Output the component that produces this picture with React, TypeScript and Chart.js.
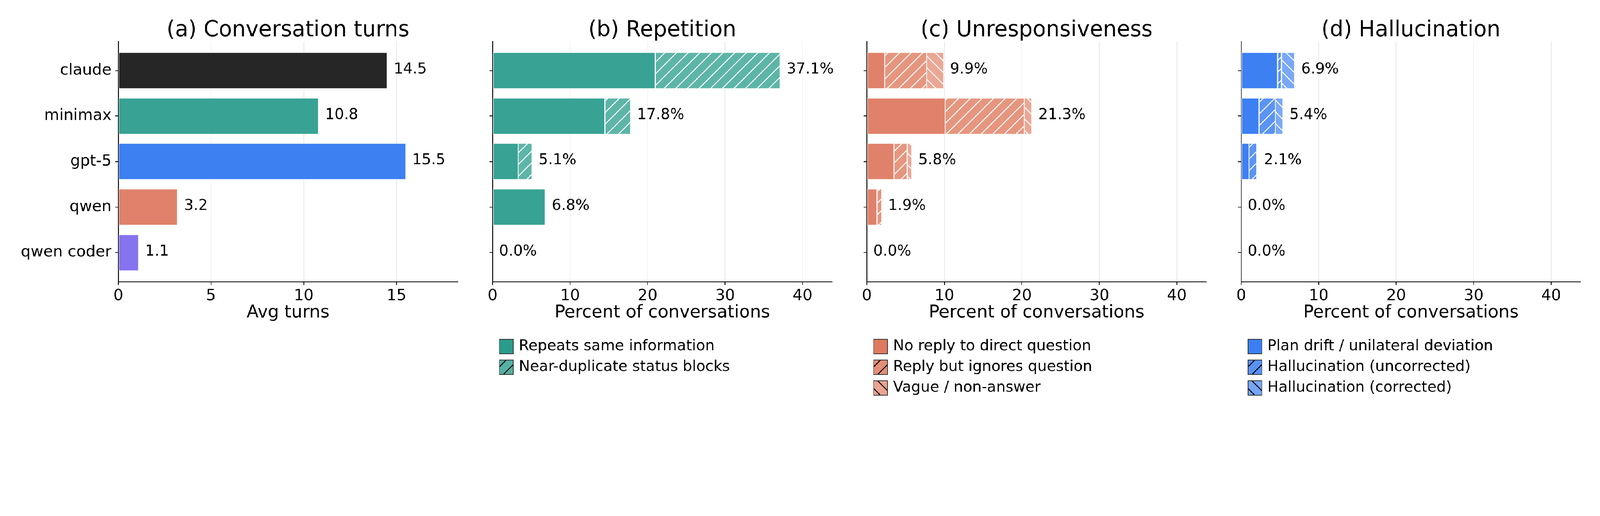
import React, { useEffect, useRef } from 'react'
import { Chart, registerables } from 'chart.js'

Chart.register(...registerables)

const FONT = '"DejaVu Sans", sans-serif'
Chart.defaults.font.family = FONT

const MODELS = ['claude', 'minimax', 'gpt-5', 'qwen', 'qwen coder']

// (a) conversation turns
const AVG_TURNS = [14.5, 10.8, 15.5, 3.2, 1.1]
const TURN_COLORS = ['#262626', '#38a294', '#3d80f2', '#e0826b', '#8673ef']
const TURN_TICKS = [0, 5, 10, 15]

// (b) repetition, percent of conversations
const REPEATS_SAME = [21.0, 14.5, 3.3, 6.8, 0]
const NEAR_DUPLICATE = [16.1, 3.3, 1.8, 0, 0]

// (c) unresponsiveness
const NO_REPLY = [2.3, 10.1, 3.5, 1.3, 0]
const IGNORES_QUESTION = [5.4, 10.2, 1.7, 0.6, 0]
const VAGUE = [2.2, 1.0, 0.6, 0, 0]

// (d) hallucination
const PLAN_DRIFT = [4.7, 2.3, 1.0, 0, 0]
const HALLU_UNCORRECTED = [0.5, 2.1, 1.0, 0, 0]
const HALLU_CORRECTED = [1.7, 1.0, 0.1, 0, 0]

const PCT_TICKS = [0, 10, 20, 30, 40]

type Dir = '/' | '\\' | undefined

interface Segment {
  label: string
  values: number[]
  bar: string | string[]
  swatch: string
  hatch?: Dir
}

interface PanelSpec {
  title: string
  axisLabel: string
  left: number
  yWidth: number
  max: number
  ticks: number[]
  showNames: boolean
  suffix: string
  legend: boolean
  segments: Segment[]
}

const PANELS: PanelSpec[] = [
  {
    title: '(a) Conversation turns', axisLabel: 'Avg turns', left: 366, yWidth: 366, max: 18.3,
    ticks: TURN_TICKS, showNames: true, suffix: '', legend: false,
    segments: [{ label: 'Avg turns', values: AVG_TURNS, bar: TURN_COLORS, swatch: '#262626' }],
  },
  {
    title: '(b) Repetition', axisLabel: 'Percent of conversations', left: 1524, yWidth: 60, max: 43.8,
    ticks: PCT_TICKS, showNames: false, suffix: '%', legend: true,
    segments: [
      { label: 'Repeats same information', values: REPEATS_SAME, bar: '#38a294', swatch: '#2a9c8a' },
      { label: 'Near-duplicate status blocks', values: NEAR_DUPLICATE, bar: '#5db5a8', swatch: '#55b0a3', hatch: '/' },
    ],
  },
  {
    title: '(c) Unresponsiveness', axisLabel: 'Percent of conversations', left: 2682, yWidth: 60, max: 43.8,
    ticks: PCT_TICKS, showNames: false, suffix: '%', legend: true,
    segments: [
      { label: 'No reply to direct question', values: NO_REPLY, bar: '#e0826b', swatch: '#df7a60' },
      { label: 'Reply but ignores question', values: IGNORES_QUESTION, bar: '#e6967f', swatch: '#e48f78', hatch: '/' },
      { label: 'Vague / non-answer', values: VAGUE, bar: '#eba795', swatch: '#eaa390', hatch: '\\' },
    ],
  },
  {
    title: '(d) Hallucination', axisLabel: 'Percent of conversations', left: 3840, yWidth: 60, max: 43.8,
    ticks: PCT_TICKS, showNames: false, suffix: '%', legend: true,
    segments: [
      { label: 'Plan drift / unilateral deviation', values: PLAN_DRIFT, bar: '#3d80f2', swatch: '#3b7ff2' },
      { label: 'Hallucination (uncorrected)', values: HALLU_UNCORRECTED, bar: '#5b94f4', swatch: '#5891f4', hatch: '/' },
      { label: 'Hallucination (corrected)', values: HALLU_CORRECTED, bar: '#7aa8f6', swatch: '#77a5f6', hatch: '\\' },
    ],
  },
]

const W = 4950
const H = 1320
const AXES_W = 1050
const RIGHT_PAD = 20
const AXES_TOP = 128
const AXES_BOTTOM = 871
const X_AXIS_H = 100

function hatchPattern(color: string, dir: Dir): CanvasPattern | string {
  if (!dir) return color
  const s = 36
  const c = document.createElement('canvas')
  c.width = s
  c.height = s
  const g = c.getContext('2d')!
  g.fillStyle = color
  g.fillRect(0, 0, s, s)
  g.strokeStyle = '#ffffff'
  g.lineWidth = 3
  g.beginPath()
  for (const k of [-s, 0, s]) {
    if (dir === '/') { g.moveTo(k - 2, s + 2); g.lineTo(k + s + 2, -2) }
    else { g.moveTo(k - 2, -2); g.lineTo(k + s + 2, s + 2) }
  }
  g.stroke()
  return g.createPattern(c, 'repeat')!
}

function drawSwatch(ctx: CanvasRenderingContext2D, x: number, y: number, w: number, h: number, color: string, dir: Dir) {
  ctx.save()
  ctx.fillStyle = color
  ctx.fillRect(x, y, w, h)
  if (dir) {
    ctx.beginPath()
    ctx.rect(x, y, w, h)
    ctx.clip()
    ctx.strokeStyle = '#000'
    ctx.lineWidth = 3
    ctx.beginPath()
    for (let k = -2; k <= 2; k++) {
      const ox = x + k * 36 + 12
      if (dir === '/') { ctx.moveTo(ox, y + h); ctx.lineTo(ox + h, y) }
      else { ctx.moveTo(ox, y); ctx.lineTo(ox + h, y + h) }
    }
    ctx.stroke()
  }
  ctx.restore()
  ctx.strokeStyle = '#333'
  ctx.lineWidth = 2
  ctx.strokeRect(x, y, w, h)
}

function makeDecor(spec: PanelSpec) {
  return {
    id: 'decor',
    afterDraw(chart: Chart) {
      const { ctx, chartArea, scales } = chart
      const cx = (chartArea.left + chartArea.right) / 2
      ctx.save()
      ctx.fillStyle = '#000'
      ctx.textAlign = 'center'
      ctx.textBaseline = 'alphabetic'
      ctx.font = `67px ${FONT}`
      ctx.fillText(spec.title, cx, 112)
      ctx.font = `54px ${FONT}`
      ctx.fillText(spec.axisLabel, cx, 981)

      // totals at bar ends
      ctx.font = `46px ${FONT}`
      ctx.textAlign = 'left'
      ctx.textBaseline = 'middle'
      MODELS.forEach((_, i) => {
        const total = spec.segments.reduce((s, seg) => s + seg.values[i], 0)
        const px = scales.x.getPixelForValue(total) + 20
        const py = scales.y.getPixelForValue(i) - 3
        ctx.fillText(total.toFixed(1) + spec.suffix, px, py)
      })

      if (spec.legend) {
        const bx = chartArea.left + 21
        spec.segments.forEach((seg, i) => {
          const by = 1049 + i * 64
          drawSwatch(ctx, bx, by, 43, 45, seg.swatch, seg.hatch)
          ctx.fillStyle = '#000'
          ctx.font = `46px ${FONT}`
          ctx.textAlign = 'left'
          ctx.textBaseline = 'middle'
          ctx.fillText(seg.label, bx + 60, by + 22)
        })
      }
      ctx.restore()
    },
  }
}

function Panel({ spec }: { spec: PanelSpec }) {
  const canvasRef = useRef<HTMLCanvasElement>(null)
  const width = spec.yWidth + AXES_W + RIGHT_PAD

  useEffect(() => {
    if (!canvasRef.current) return
    const datasets = spec.segments.map(seg => ({
      label: seg.label,
      data: seg.values.map((v, i) => ({ x: v, y: i })),
      backgroundColor: Array.isArray(seg.bar) ? seg.bar : hatchPattern(seg.bar, seg.hatch),
      borderColor: '#ffffff',
      borderWidth: 1.5,
      borderSkipped: false,
      barPercentage: 0.8,
      categoryPercentage: 1,
    }))
    const chart = new Chart(canvasRef.current, {
      type: 'bar',
      data: { datasets } as any,
      options: {
        indexAxis: 'y',
        responsive: false,
        animation: false,
        devicePixelRatio: 1,
        layout: { padding: { top: AXES_TOP, right: RIGHT_PAD, bottom: H - AXES_BOTTOM - X_AXIS_H, left: 0 } },
        plugins: { legend: { display: false }, title: { display: false }, tooltip: { enabled: false } },
        scales: {
          x: {
            type: 'linear',
            min: 0,
            max: spec.max,
            stacked: true,
            afterBuildTicks: (s: any) => { s.ticks = spec.ticks.map(v => ({ value: v })) },
            afterFit: (s: any) => { s.height = X_AXIS_H },
            grid: {
              color: (c: any) => (c.tick && c.tick.value === 0 ? 'rgba(0,0,0,0)' : '#e8e8e8'),
              lineWidth: 2,
              tickColor: '#000',
              tickLength: 10,
              tickWidth: 2.4,
            },
            border: { color: '#000', width: 2.4 },
            ticks: { font: { size: 48 }, color: '#000', padding: 6, maxRotation: 0 },
          },
          y: {
            type: 'linear',
            reverse: true,
            offset: false,
            min: -0.64,
            max: 4.64,
            stacked: true,
            z: 1,
            afterBuildTicks: (s: any) => { s.ticks = MODELS.map((_, i) => ({ value: i })) },
            afterFit: (s: any) => { s.width = spec.yWidth },
            grid: { offset: false, drawOnChartArea: false, tickColor: '#000', tickLength: 10, tickWidth: 2.4 },
            border: { color: '#000', width: 2.4 },
            ticks: {
              font: { size: 48 },
              color: '#000',
              padding: 11,
              callback: (v: any) => (spec.showNames ? MODELS[Number(v)] : ''),
            },
          },
        },
      } as any,
      plugins: [makeDecor(spec)],
    })
    return () => chart.destroy()
  }, [spec])

  return (
    <canvas
      ref={canvasRef}
      width={width}
      height={H}
      style={{ position: 'absolute', left: spec.left - spec.yWidth, top: 0, width, height: H }}
    />
  )
}

export default function App() {
  // the page may be narrower in CSS pixels than the 4950px picture, so fit the drawing to it
  const k = Math.min(window.innerWidth / W, window.innerHeight / H)
  return (
    <div style={{ position: 'fixed', left: 0, top: 0, width: W, height: H, background: '#fff', transform: `scale(${k})`, transformOrigin: '0 0' }}>
      {PANELS.map(p => (
        <Panel key={p.title} spec={p} />
      ))}
    </div>
  )
}
